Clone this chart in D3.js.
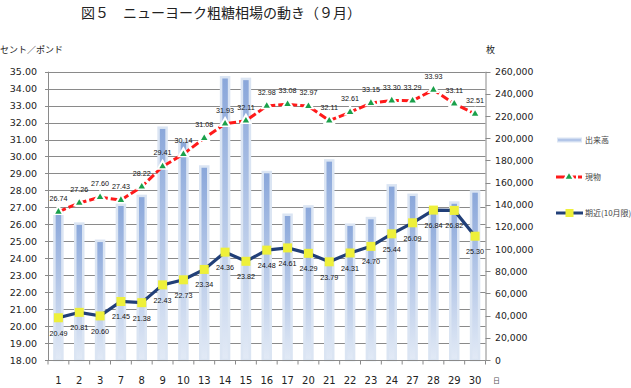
<!DOCTYPE html>
<html lang="ja">
<head>
<meta charset="UTF-8">
<title>図５ ニューヨーク粗糖相場の動き（９月）</title>
<script src="https://d3js.org/d3.v7.min.js"></script>
<style>
  body { margin: 0; background: #fff; }
  .num { font-family: "DejaVu Sans", sans-serif; fill: #222; }
  .jp { font-family: "Noto Sans CJK JP", sans-serif; fill: #222; }
  .lbl { font-family: "Liberation Sans", Arial, sans-serif; font-size: 7.2px; fill: #111; }
</style>
</head>
<body>
<script>
// data
var days = ["1","2","3","7","8","9","10","13","14","15","16","17","20","21","22","23","24","27","28","29","30"];
var volume = [132000,123000,107500,140000,148000,209500,197500,174500,255000,253500,169500,131000,138500,180000,122000,128000,157500,149000,136000,142000,152000];
var spot = [26.74,27.26,27.60,27.43,28.22,29.41,30.14,31.08,31.93,32.11,32.98,33.08,32.97,32.11,32.61,33.15,33.30,33.29,33.93,33.11,32.51];
var nearby = [20.49,20.81,20.60,21.45,21.38,22.43,22.73,23.34,24.36,23.82,24.48,24.61,24.29,23.79,24.31,24.70,25.44,26.09,26.84,26.82,25.30];
var priceTicks = d3.range(18, 35.01, 1);
var volTicks = d3.range(0, 260001, 20000);

var W = 631, H = 388;
// plot area edges (avoid "top", which is window.top)
var pL = 48, pR = 485.5, pT = 71.7, pB = 360;

var svg = d3.select("body").append("svg")
    .attr("width", W)
    .attr("height", H);

var x = d3.scaleBand().domain(days).range([pL, pR]).padding(0);
var y = d3.scaleLinear().domain([18, 35]).range([pB, pT]);
var y2 = d3.scaleLinear().domain([0, 260000]).range([pB, pT]);

// gradient for the volume bars
var grad = svg.append("defs").append("linearGradient")
    .attr("id", "barGrad")
    .attr("x1", 0).attr("y1", 0).attr("x2", 0).attr("y2", 1);
grad.append("stop").attr("offset", "0%").attr("stop-color", "#8aa7da");
grad.append("stop").attr("offset", "100%").attr("stop-color", "#e2eaf6");

// title
svg.append("text")
    .attr("class", "jp")
    .attr("x", 221).attr("y", 18)
    .attr("text-anchor", "middle")
    .style("font-size", "14px")
    .text("図５　ニューヨーク粗糖相場の動き（９月）");

svg.append("text").attr("class", "jp")
    .attr("x", 0).attr("y", 53)
    .style("font-size", "9px")
    .text("セント／ポンド");

svg.append("text").attr("class", "jp")
    .attr("x", 486).attr("y", 53)
    .style("font-size", "9px")
    .text("枚");

// gridlines
svg.append("g")
    .selectAll("line")
    .data(priceTicks)
    .enter().append("line")
    .attr("x1", pL - 3).attr("x2", pR)
    .attr("y1", function(d) { return Math.round(y(d)) + 0.5; })
    .attr("y2", function(d) { return Math.round(y(d)) + 0.5; })
    .attr("stroke", "#8a8a8a")
    .attr("stroke-width", 1);

// bars
var bw = 8;
svg.append("g")
    .selectAll("rect")
    .data(volume)
    .enter().append("rect")
    .attr("x", function(d, i) { return x(days[i]) + x.bandwidth() / 2 - bw / 2; })
    .attr("y", function(d) { return y2(d); })
    .attr("width", bw)
    .attr("height", function(d) { return pB - y2(d); })
    .attr("fill", "url(#barGrad)")
    .attr("stroke", "#dbe5f3")
    .attr("stroke-width", 2.5);

// axes
var xAxis = svg.append("g")
    .attr("transform", "translate(0," + (Math.round(pB) + 0.5) + ")");
xAxis.append("line")
    .attr("x1", pL).attr("x2", pR)
    .attr("stroke", "#8a8a8a");
xAxis.selectAll(".tk")
    .data(days.concat(["end"]))
    .enter().append("line")
    .attr("x1", function(d, i) { return pL + i * x.step(); })
    .attr("x2", function(d, i) { return pL + i * x.step(); })
    .attr("y1", 0).attr("y2", 4)
    .attr("stroke", "#8a8a8a");
xAxis.selectAll("text")
    .data(days)
    .enter().append("text")
    .attr("class", "num")
    .attr("x", function(d) { return x(d) + x.bandwidth() / 2; })
    .attr("y", 23)
    .attr("text-anchor", "middle")
    .style("font-size", "10px")
    .text(function(d) { return d; });

svg.append("text").attr("class", "jp")
    .attr("x", 493).attr("y", 383)
    .style("font-size", "7px")
    .style("fill", "#555")
    .text("日");

// left axis
svg.append("line")
    .attr("x1", pL + 0.5).attr("x2", pL + 0.5)
    .attr("y1", pT).attr("y2", pB)
    .attr("stroke", "#8a8a8a");
svg.append("g")
    .selectAll("text")
    .data(priceTicks)
    .enter().append("text")
    .attr("class", "num")
    .attr("x", 37)
    .attr("y", function(d) { return y(d) + 3.5; })
    .attr("text-anchor", "end")
    .style("font-size", "9.5px")
    .text(function(d) { return d3.format(".2f")(d); });

// right axis
var rAxis = svg.append("g");
rAxis.append("line")
    .attr("x1", pR + 0.5).attr("x2", pR + 0.5)
    .attr("y1", pT).attr("y2", pB)
    .attr("stroke", "#8a8a8a");
rAxis.selectAll(".tk")
    .data(volTicks)
    .enter().append("line")
    .attr("x1", pR).attr("x2", pR + 5)
    .attr("y1", function(d) { return Math.round(y2(d)) + 0.5; })
    .attr("y2", function(d) { return Math.round(y2(d)) + 0.5; })
    .attr("stroke", "#8a8a8a");
rAxis.selectAll("text")
    .data(volTicks)
    .enter().append("text")
    .attr("class", "num")
    .attr("x", 495)
    .attr("y", function(d) { return y2(d) + 3.5; })
    .style("font-size", "9.3px")
    .text(function(d) { return d3.format(",")(d); });

var cx = function(d, i) { return x(days[i]) + x.bandwidth() / 2; };

// spot line (red dashed)
var priceLine = d3.line()
    .x(function(d, i) { return cx(d, i); })
    .y(function(d) { return y(d); });
svg.append("path")
    .datum(spot)
    .attr("d", priceLine)
    .attr("fill", "none")
    .attr("stroke", "#ff1a1a")
    .attr("stroke-width", 3)
    .attr("stroke-dasharray", "8,3");

var tri = d3.symbol().type(d3.symbolTriangle);
svg.append("g").selectAll("path")
    .data(spot)
    .enter().append("path")
    .attr("d", tri.size(70)())
    .attr("transform", function(d, i) { return "translate(" + cx(d, i) + "," + (y(d) - 0.5) + ")"; })
    .attr("fill", "#fff");
svg.append("g").selectAll("path")
    .data(spot)
    .enter().append("path")
    .attr("d", tri.size(18)())
    .attr("transform", function(d, i) { return "translate(" + cx(d, i) + "," + y(d) + ")"; })
    .attr("fill", "#1aa04a");

svg.append("g").selectAll("text")
    .data(spot)
    .enter().append("text")
    .attr("class", "lbl")
    .attr("x", function(d, i) { return cx(d, i); })
    .attr("y", function(d) { return y(d) - 11; })
    .attr("text-anchor", "middle")
    .text(function(d) { return d3.format(".2f")(d); });

// nearby futures line (navy)
svg.append("path")
    .datum(nearby)
    .attr("d", priceLine)
    .attr("fill", "none")
    .attr("stroke", "#213f78")
    .attr("stroke-width", 3.2);

svg.append("g").selectAll("rect")
    .data(nearby)
    .enter().append("rect")
    .attr("x", function(d, i) { return cx(d, i) - 4.5; })
    .attr("y", function(d) { return y(d) - 4.5; })
    .attr("width", 9).attr("height", 9)
    .attr("fill", "#eef03a");

svg.append("g").selectAll("text")
    .data(nearby)
    .enter().append("text")
    .attr("class", "lbl")
    .attr("x", function(d, i) { return cx(d, i); })
    .attr("y", function(d) { return y(d) + 18; })
    .attr("text-anchor", "middle")
    .text(function(d) { return d3.format(".2f")(d); });

// legend
var lg = svg.append("g");
lg.append("line")
    .attr("x1", 557).attr("x2", 582).attr("y1", 140).attr("y2", 140)
    .attr("stroke", "#dbe5f3").attr("stroke-width", 5);
lg.append("line")
    .attr("x1", 558).attr("x2", 581).attr("y1", 140).attr("y2", 140)
    .attr("stroke", "#b3c6e8").attr("stroke-width", 2.5);
lg.append("text").attr("class", "jp")
    .attr("x", 585).attr("y", 143)
    .style("font-size", "8px").style("fill", "#444")
    .text("出来高");

lg.append("line")
    .attr("x1", 556).attr("x2", 582).attr("y1", 177).attr("y2", 177)
    .attr("stroke", "#ff1a1a").attr("stroke-width", 3)
    .attr("stroke-dasharray", "9,2");
lg.append("path")
    .attr("d", tri.size(70)())
    .attr("transform", "translate(569,176.5)")
    .attr("fill", "#fff");
lg.append("path")
    .attr("d", tri.size(18)())
    .attr("transform", "translate(569,177)")
    .attr("fill", "#1aa04a");
lg.append("text").attr("class", "jp")
    .attr("x", 585).attr("y", 180)
    .style("font-size", "8px").style("fill", "#444")
    .text("現物");

lg.append("line")
    .attr("x1", 556).attr("x2", 583).attr("y1", 213).attr("y2", 213)
    .attr("stroke", "#213f78").attr("stroke-width", 3);
lg.append("rect")
    .attr("x", 565.5).attr("y", 209).attr("width", 8).attr("height", 8)
    .attr("fill", "#eef03a");
lg.append("text").attr("class", "jp")
    .attr("x", 585).attr("y", 216)
    .style("font-size", "8px").style("fill", "#444")
    .text("期近(10月限)");
</script>
</body>
</html>
